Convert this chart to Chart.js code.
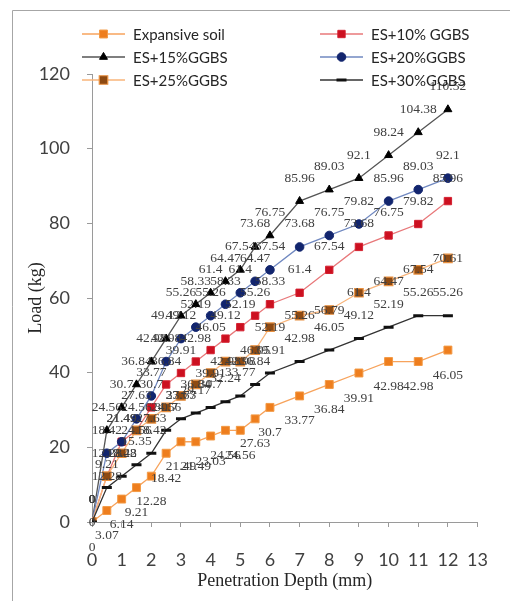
<!DOCTYPE html>
<html>
<head>
<meta charset="utf-8">
<script src="https://cdn.jsdelivr.net/npm/chart.js@4.4.1/dist/chart.umd.min.js"></script>
<style>
  html, body { margin: 0; padding: 0; background: #fff; }
  #wrap { width: 510px; height: 601px; }
</style>
</head>
<body>
<div id="wrap"><canvas id="cbrChart" width="510" height="601"></canvas></div>
<script>
// penetration depth (mm)
const depth = [0, 0.5, 1, 1.5, 2, 2.5, 3, 3.5, 4, 4.5, 5, 5.5, 6, 7, 8, 9, 10, 11, 12];

// load (kg) for each mix
const loadES = [0, 3.07, 6.14, 9.21, 12.28, 18.42, 21.49, 21.49, 23.03, 24.56, 24.56, 27.63, 30.7, 33.77, 36.84, 39.91, 42.98, 42.98, 46.05];
const loadES10 = [0, 12.28, 21.49, 24.56, 30.7, 36.84, 39.91, 42.98, 46.05, 49.12, 52.19, 55.26, 58.33, 61.4, 67.54, 73.68, 76.75, 79.82, 85.96];
const loadES15 = [0, 24.56, 30.7, 36.84, 42.98, 49.12, 55.26, 58.33, 61.4, 64.47, 67.54, 73.68, 76.75, 85.96, 89.03, 92.1, 98.24, 104.38, 110.52];
const loadES20 = [0, 18.42, 21.49, 27.63, 33.77, 42.98, 49.12, 52.19, 55.26, 58.33, 61.4, 64.47, 67.54, 73.68, 76.75, 79.82, 85.96, 89.03, 92.1];
const loadES25 = [0, 12.28, 18.42, 24.56, 27.63, 30.7, 33.77, 36.84, 39.91, 42.98, 42.98, 46.05, 52.19, 55.26, 56.79, 61.4, 64.47, 67.54, 70.61];
const loadES30 = [0, 9.21, 12.28, 15.35, 18.42, 24.56, 27.63, 29.17, 30.7, 32.24, 33.77, 36.84, 39.91, 42.98, 46.05, 49.12, 52.19, 55.26, 55.26];

const seriesNames = ["Expansive soil", "ES+10% GGBS", "ES+15%GGBS", "ES+20%GGBS", "ES+25%GGBS", "ES+30%GGBS"];
const xTicksMax = 13;
const yTicksMax = 120;

// label offset (px) from the point: + below, - above, 0 centred
const labelShift = [25, -23, -23, -23, 0, -23];

function pts(arr) {
  return arr.map((v, i) => ({ x: depth[i], y: v }));
}

function makeSet(label, data, line, fill, border, style, radius, bw) {
  return {
    label: label,
    data: pts(data),
    borderColor: line,
    borderWidth: 1.3,
    pointStyle: style,
    pointRadius: radius,
    pointHoverRadius: radius,
    pointBackgroundColor: fill,
    pointBorderColor: border,
    pointBorderWidth: bw,
    tension: 0,
    fill: false,
  };
}

const datasets = [
  makeSet(seriesNames[0], loadES, "#F7A35C", "#EE7E1E", "#F39A45", "rect", 5.6, 1),
  makeSet(seriesNames[1], loadES10, "#E8787A", "#CC1020", "#D42030", "rect", 5.2, 1),
  makeSet(seriesNames[2], loadES15, "#555555", "#000000", "#000000", "triangle", 4.6, 1),
  makeSet(seriesNames[3], loadES20, "#7088C0", "#12256E", "#12256E", "circle", 4.3, 1),
  makeSet(seriesNames[4], loadES25, "#F8B47A", "#8E4A12", "#E89040", "rect", 6, 1.2),
  makeSet(seriesNames[5], loadES30, "#333333", "#111111", "#111111", "line", 5, 3),
];
// later series sit on top, as in the sheet
datasets.forEach((d, i) => (d.order = datasets.length - i));

/* ============ FRAME + LEGEND ============ */
const frameAndLegend = {
  id: "frameAndLegend",
  beforeDraw(chart) {
    const ctx = chart.ctx;
    ctx.save();
    ctx.fillStyle = "#fff";
    ctx.fillRect(0, 0, chart.width, chart.height);
    ctx.strokeStyle = "#A6A6A6";
    ctx.lineWidth = 1;
    ctx.beginPath();
    ctx.moveTo(12.5, chart.height + 2);
    ctx.lineTo(12.5, 10.5);
    ctx.lineTo(chart.width + 2, 10.5);
    ctx.stroke();
    ctx.restore();
  },
  afterDraw(chart) {
    const ctx = chart.ctx;
    const cols = [82, 320];
    const rows = [34, 57, 80];
    ctx.save();
    ctx.font = "15px Lato";
    ctx.textBaseline = "middle";
    ctx.textAlign = "left";
    chart.data.datasets.forEach((ds, i) => {
      const x0 = cols[i % 2];
      const y0 = rows[Math.floor(i / 2)];
      ctx.strokeStyle = ds.borderColor;
      ctx.lineWidth = 1.3;
      ctx.beginPath();
      ctx.moveTo(x0, y0);
      ctx.lineTo(x0 + 43, y0);
      ctx.stroke();
      ctx.fillStyle = ds.pointBackgroundColor;
      ctx.strokeStyle = ds.pointBorderColor;
      ctx.lineWidth = ds.pointBorderWidth;
      Chart.helpers.drawPoint(ctx, { pointStyle: ds.pointStyle, radius: ds.pointRadius, rotation: 0, borderWidth: ds.pointBorderWidth }, x0 + 21.5, y0);
      ctx.fillStyle = "#262626";
      ctx.fillText(ds.label, x0 + 51, y0 + 1);
    });
    ctx.restore();
  },
};

/* ============ VALUE LABELS ============ */
const valueLabels = {
  id: "valueLabels",
  afterDatasetsDraw(chart) {
    const ctx = chart.ctx;
    ctx.save();
    ctx.font = "13.5px 'Liberation Serif'";
    ctx.fillStyle = "#404040";
    ctx.textAlign = "center";
    ctx.textBaseline = "middle";
    chart.data.datasets.forEach((ds, i) => {
      const meta = chart.getDatasetMeta(i);
      meta.data.forEach((pt, j) => {
        ctx.fillText(String(ds.data[j].y), pt.x, pt.y + labelShift[i]);
      });
    });
    ctx.restore();
  },
};

new Chart(document.getElementById("cbrChart"), {
  type: "line",
  data: { datasets: datasets },
  plugins: [frameAndLegend, valueLabels],
  options: {
    responsive: false,
    animation: false,
    events: [],
    layout: { padding: { top: 74, right: 18, left: 0, bottom: 0 } },
    plugins: { legend: { display: false }, tooltip: { enabled: false } },
    scales: {
      x: {
        type: "linear",
        min: 0,
        max: xTicksMax,
        afterFit: (s) => { s.height = 79; },
        border: { color: "#9A9A9A", width: 1 },
        grid: { drawOnChartArea: false, tickLength: 5, color: "#9A9A9A" },
        ticks: { stepSize: 1, padding: 22, color: "#404040", font: { family: "Lato", size: 18 } },
        title: {
          display: true,
          text: "Penetration Depth (mm)",
          color: "#262626",
          font: { family: "Liberation Serif", size: 18 },
          padding: { top: 0, bottom: 9 },
        },
      },
      y: {
        min: 0,
        max: yTicksMax,
        afterFit: (s) => { s.width = 92; },
        border: { color: "#9A9A9A", width: 1 },
        grid: { drawOnChartArea: false, tickLength: 5, color: "#9A9A9A" },
        ticks: { stepSize: 20, padding: 17, color: "#404040", font: { family: "Lato", size: 18 } },
        title: {
          display: true,
          text: "Load (kg)",
          color: "#262626",
          font: { family: "Liberation Serif", size: 18 },
          padding: { top: 25, bottom: 0 },
        },
      },
    },
  },
});
</script>
</body>
</html>
